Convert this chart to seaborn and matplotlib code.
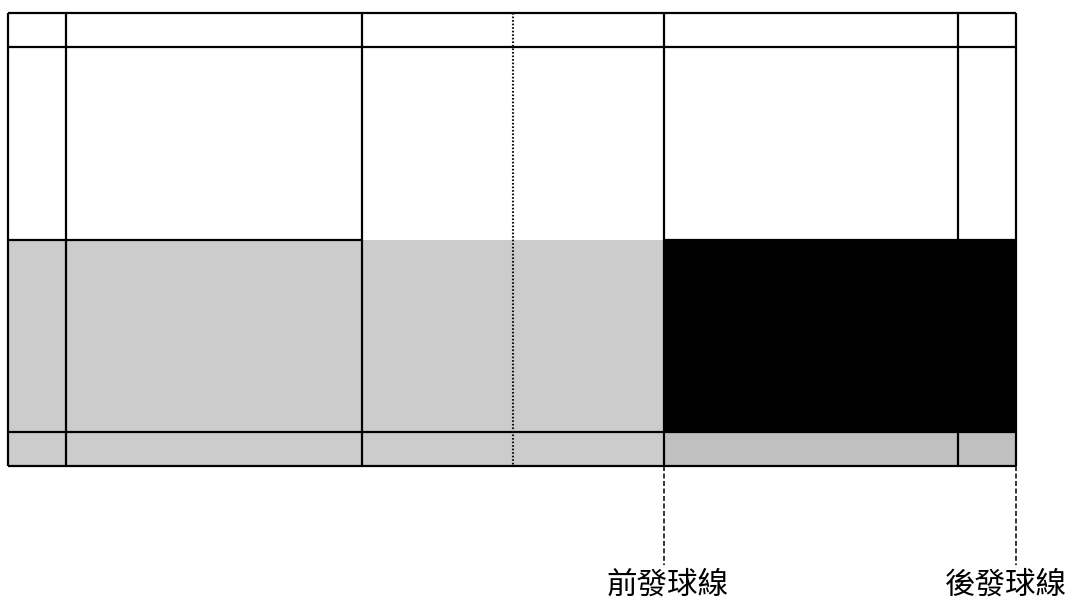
import matplotlib
matplotlib.use("Agg")
import matplotlib.pyplot as plt
import seaborn as sns
import numpy as np

sns.set_theme(style="white")
plt.rcParams['font.family'] = ['Noto Sans CJK TC', 'DejaVu Sans']

# Court geometry (metres)
court_len = 13.4
court_wid = 6.1
x_lines = [0.0, 0.77, 4.71, 8.72, 12.63, 13.4]      # back, long service (dbl), short service, short service, long service (dbl), back
net_x = 6.71
y_lines = [0.0, 0.46, 5.64, 6.1]                      # outer + singles side lines
centre_y = 3.05
labels = ["前發球線", "後發球線"]
leader_x = [8.72, 13.4]
label_x = [8.77, 13.26]

# shaded areas: (x0, x1, y0, y1, colour)
shade_x0 = [0.0, 0.0, 8.72, 8.72]
shade_x1 = [8.72, 8.72, 13.4, 13.4]
shade_y0 = [3.05, 5.64, 3.05, 5.64]
shade_y1 = [5.64, 6.1, 5.64, 6.1]
shade_c = ["#cccccc", "#cccccc", "#000000", "#c0c0c0"]

fig = plt.figure(figsize=(10.74, 6.04), dpi=100)
ax = fig.add_axes([0, 0, 1, 1])
pxm_x = 1008 / court_len
pxm_y = 453 / court_wid
ax.set_xlim(-8 / pxm_x, (1074 - 8) / pxm_x)
ax.set_ylim((604 - 13) / pxm_y, -13 / pxm_y)
ax.axis("off")

for x0, x1, y0, y1, c in zip(shade_x0, shade_x1, shade_y0, shade_y1, shade_c):
    ax.fill_between([x0, x1], [y0, y0], [y1, y1], color=c, linewidth=0, zorder=1)

lw = 1.6
for y in y_lines:
    ax.hlines(y, 0, court_len, color="black", linewidth=lw, zorder=3)
for x in x_lines:
    ax.vlines(x, 0, court_wid, color="black", linewidth=lw, zorder=3)
ax.hlines(centre_y, 0, x_lines[2], color="black", linewidth=lw, zorder=3)
ax.hlines(centre_y, x_lines[3], court_len, color="black", linewidth=lw, zorder=3)

# net (dotted)
ax.vlines(net_x, 0, court_wid, color="#111111", linewidth=1.5,
          linestyles=(0, (0.8, 0.9)), zorder=4)

# dashed leader lines and labels
for lx in leader_x:
    ax.vlines(lx, court_wid, 7.43, color="black", linewidth=1.1,
              linestyles=(0, (3.3, 1.6)), zorder=3)
for tx, lab in zip(label_x, labels):
    ax.text(tx, 7.70, lab, ha="center", va="center", fontsize=22, color="black")

fig.savefig("out.png", dpi=100)
